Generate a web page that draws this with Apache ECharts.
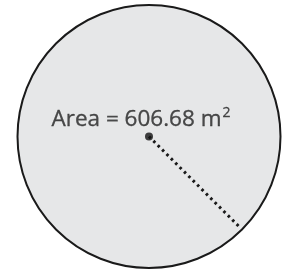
<!DOCTYPE html>
<html>
<head>
<meta charset="utf-8">
<script src="https://cdn.jsdelivr.net/npm/echarts@6/dist/echarts.min.js"></script>
<style>
  html, body { margin: 0; padding: 0; background: #fff; }
  #chart { width: 282px; height: 271px; }
</style>
</head>
<body>
<div id="chart"></div>
<script>
// 数据
const areaValues = [606.68];        // m²
const centerPoint = [0, 0];
const radiusAngleDeg = [-45];       // 半径虚线方向
const labelParts = ["Area = 606.68 m", "2"];

const radius = Math.sqrt(areaValues[0] / Math.PI);

// 布局（像素）
const CX = 149, CY = 136.5, R_PX = 132.5;
const W = 282, H = 271;
const k = R_PX / radius; // px per m

const ang = radiusAngleDeg[0] * Math.PI / 180;
const lineEnd = [
  centerPoint[0] + radius * 0.955 * Math.cos(ang),
  centerPoint[1] + radius * 0.955 * Math.sin(ang),
];

const chart = echarts.init(document.getElementById("chart"));

chart.setOption({
  animation: false,
  grid: { left: 0, top: 0, width: W, height: H, containLabel: false },
  xAxis: {
    type: "value",
    min: -CX / k,
    max: (W - CX) / k,
    show: false,
  },
  yAxis: {
    type: "value",
    min: -(H - CY) / k,
    max: CY / k,
    show: false,
  },
  series: [
    {
      // 圆
      type: "custom",
      data: [centerPoint],
      renderItem: function (params, api) {
        const c = api.coord([api.value(0), api.value(1)]);
        const r = api.size([radius, 0])[0];
        return {
          type: "circle",
          shape: { cx: c[0], cy: c[1], r: r - 1 },
          style: { fill: "#e6e7e8", stroke: "#1a1a1a", lineWidth: 2 },
        };
      },
      z: 1,
    },
    {
      // 半径
      type: "line",
      data: [centerPoint, lineEnd],
      symbol: "none",
      lineStyle: { color: "#1a1a1a", width: 3, type: [2.6, 3.6], cap: "butt" },
      z: 2,
    },
    {
      // 圆心
      type: "scatter",
      data: [centerPoint],
      symbolSize: 8,
      itemStyle: { color: "#111" },
      label: {
        show: true,
        position: "top",
        offset: [-8, 5],
        formatter: "{a|" + labelParts[0] + "}{s|" + labelParts[1] + "}",
        rich: {
          a: {
            fontFamily: "Open Sans",
            fontSize: 22.5,
            color: "#222",
            textBorderColor: "#222",
            textBorderWidth: 0.3,
            lineHeight: 26,
          },
          s: {
            fontFamily: "Open Sans",
            fontSize: 14,
            color: "#222",
            textBorderColor: "#222",
            textBorderWidth: 0.3,
            verticalAlign: "top",
            lineHeight: 14,
            padding: [0, 0, 0, 1],
          },
        },
      },
      z: 3,
    },
  ],
});
</script>
</body>
</html>
